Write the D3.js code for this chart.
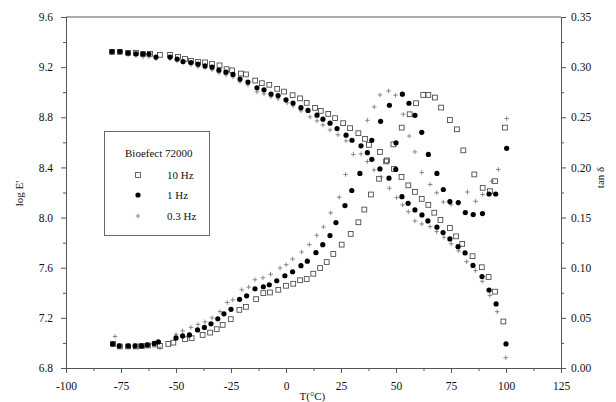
<!DOCTYPE html>
<html>
<head>
<meta charset="utf-8">
<script src="https://cdn.jsdelivr.net/npm/d3@7/dist/d3.min.js"></script>
<style>
  html, body { margin: 0; padding: 0; background: #fff; }
  svg { display: block; }
  text { font-family: "Liberation Serif", "Times New Roman", serif; fill: #111; }
</style>
</head>
<body>
<svg id="chart" width="616" height="402"></svg>
<script>
// Storage modulus (log E') of Bioefect 72000 vs temperature, [T in °C, log E']
const logE_10Hz = [[-79.1,9.322],[-75.5,9.322],[-71.8,9.314],[-68.2,9.314],[-65.0,9.306],[-61.8,9.306],[-57.3,9.298],[-52.7,9.298],[-49.1,9.282],[-45.9,9.266],[-43.2,9.250],[-40.0,9.242],[-36.8,9.238],[-33.6,9.226],[-30.2,9.214],[-27.0,9.184],[-24.5,9.174],[-20.5,9.149],[-18.2,9.142],[-14.0,9.093],[-11.0,9.072],[-7.6,9.059],[-4.0,9.027],[-0.9,9.005],[3.0,8.976],[6.4,8.951],[9.4,8.915],[13.2,8.875],[15.8,8.851],[19.2,8.827],[22.3,8.793],[26.0,8.753],[29.1,8.713],[32.9,8.673],[35.9,8.628],[37.7,8.580],[42.7,8.524],[45.9,8.456],[49.1,8.388],[52.5,8.324],[55.6,8.257],[58.6,8.205],[61.7,8.149],[64.7,8.101],[67.4,8.039],[70.2,7.981],[74.5,7.917],[77.3,7.850],[80.1,7.790],[84.8,7.692],[89.0,7.604],[92.1,7.526],[95.0,7.409],[98.8,7.171]];
const logE_1Hz = [[-79.1,9.324],[-75.5,9.324],[-71.8,9.312],[-68.2,9.306],[-65.0,9.304],[-62.3,9.304],[-59.1,9.280],[-52.7,9.280],[-49.5,9.264],[-46.8,9.245],[-43.2,9.237],[-40.0,9.224],[-36.8,9.210],[-33.6,9.200],[-30.5,9.176],[-27.3,9.160],[-24.1,9.142],[-20.9,9.105],[-17.3,9.081],[-13.2,9.035],[-10.0,9.019],[-6.8,8.985],[-3.6,8.973],[0.0,8.939],[3.2,8.913],[6.8,8.877],[10.0,8.855],[14.1,8.817],[16.8,8.785],[20.0,8.753],[23.2,8.710],[27.3,8.657],[30.0,8.617],[34.1,8.572],[37.0,8.518],[39.0,8.465],[42.7,8.388],[46.8,8.314],[52.7,8.167],[55.5,8.114],[58.6,8.061],[61.8,8.021],[64.5,7.973],[68.6,7.923],[71.4,7.880],[74.5,7.830],[78.2,7.768],[81.4,7.718],[85.0,7.618],[89.1,7.530],[92.3,7.422],[95.5,7.311],[100.0,6.992]];
const logE_03Hz = [[-79.1,9.314],[-75.5,9.314],[-71.8,9.298],[-68.2,9.290],[-65.0,9.282],[-62.3,9.282],[-59.1,9.266],[-52.7,9.266],[-49.5,9.250],[-46.8,9.234],[-43.2,9.218],[-40.0,9.202],[-36.8,9.194],[-33.6,9.178],[-30.5,9.154],[-27.3,9.138],[-24.1,9.122],[-20.9,9.083],[-17.3,9.059],[-13.2,9.003],[-10.0,8.987],[-6.8,8.963],[-3.6,8.947],[0.5,8.915],[3.2,8.891],[6.8,8.851],[10.9,8.803],[14.1,8.771],[16.8,8.739],[20.0,8.699],[23.6,8.660],[27.3,8.612],[34.1,8.508],[37.0,8.447],[40.0,8.380],[43.2,8.324],[47.0,8.234],[50.3,8.159],[53.0,8.101],[55.6,8.047],[58.6,7.973],[61.7,7.949],[65.5,7.928],[68.5,7.888],[71.8,7.843],[75.1,7.791],[78.5,7.735],[82.1,7.648],[86.1,7.577],[89.2,7.492],[92.7,7.379],[96.0,7.249],[99.9,6.882]];

// Loss tangent (tan δ) vs temperature, [T in °C, tan δ]
const tan_10Hz = [[-78.6,0.024],[-75.5,0.0215],[-71.8,0.0215],[-68.2,0.0215],[-65.5,0.022],[-62.7,0.0225],[-59.5,0.0235],[-57.3,0.022],[-53.5,0.024],[-51.2,0.0253],[-45.9,0.0287],[-42.9,0.0297],[-37.9,0.033],[-34.5,0.0353],[-31.5,0.0387],[-28.8,0.043],[-25.1,0.0487],[-21.2,0.058],[-18.2,0.061],[-13.6,0.0687],[-10.3,0.0747],[-7.3,0.0753],[-3.5,0.078],[0.0,0.082],[3.3,0.084],[6.4,0.0875],[9.4,0.0887],[12.4,0.094],[15.5,0.0997],[18.5,0.1057],[21.5,0.1137],[25.3,0.123],[29.4,0.1337],[32.9,0.1453],[35.6,0.158],[38.6,0.173],[42.3,0.1887],[45.5,0.206],[48.8,0.223],[52.6,0.2397],[56.2,0.253],[59.1,0.264],[62.4,0.2723],[64.7,0.2723],[67.7,0.2697],[70.5,0.2597],[74.5,0.2473],[77.7,0.238],[80.6,0.217],[85.6,0.193],[89.4,0.1797],[92.7,0.1763],[95.0,0.1863],[99.5,0.2397]];
const tan_1Hz = [[-78.8,0.024],[-75.8,0.022],[-71.7,0.022],[-68.6,0.022],[-65.6,0.022],[-63.0,0.023],[-59.9,0.0245],[-58.0,0.026],[-50.0,0.030],[-47.0,0.032],[-43.9,0.033],[-40.2,0.038],[-37.1,0.0405],[-34.1,0.044],[-31.0,0.049],[-28.2,0.054],[-25.0,0.0585],[-21.1,0.0685],[-17.9,0.072],[-14.1,0.079],[-10.3,0.081],[-7.6,0.083],[-4.2,0.087],[-0.5,0.092],[3.0,0.096],[6.8,0.102],[9.7,0.1065],[13.6,0.115],[16.7,0.123],[20.0,0.132],[22.7,0.145],[26.8,0.162],[29.9,0.177],[33.6,0.194],[39.0,0.227],[43.0,0.246],[47.0,0.262],[49.9,0.198],[50.0,0.2245],[52.9,0.273],[55.9,0.264],[58.6,0.252],[61.7,0.235],[64.7,0.213],[68.6,0.194],[71.5,0.178],[74.5,0.166],[78.3,0.165],[81.5,0.155],[85.1,0.153],[89.3,0.154],[92.3,0.1735],[95.3,0.1735],[100.3,0.219]];
const tan_03Hz = [[-77.7,0.0315],[-75.5,0.022],[-71.8,0.0215],[-68.6,0.0215],[-65.5,0.0215],[-62.7,0.022],[-59.5,0.023],[-57.3,0.020],[-50.0,0.0335],[-47.0,0.037],[-43.2,0.0405],[-40.0,0.0435],[-36.8,0.046],[-33.6,0.050],[-30.0,0.0563],[-26.7,0.0653],[-24.2,0.068],[-20.1,0.078],[-17.0,0.0807],[-14.1,0.088],[-10.5,0.090],[-7.0,0.0935],[-2.7,0.0997],[0.1,0.103],[3.0,0.1087],[7.1,0.1157],[10.6,0.123],[14.0,0.1323],[17.0,0.1407],[20.3,0.1547],[24.2,0.1703],[27.1,0.193],[30.6,0.213],[37.0,0.247],[40.1,0.2603],[42.7,0.2723],[46.6,0.2763],[49.8,0.272],[53.3,0.253],[56.0,0.2313],[58.6,0.2155],[61.7,0.195],[65.5,0.183],[68.5,0.1747],[71.5,0.1655],[75.0,0.163],[78.3,0.164],[82.5,0.1755],[86.2,0.1663],[89.4,0.173],[93.5,0.1863],[96.5,0.198],[100.3,0.2487]];

// Axis ticks
const tempTicks = [-100, -75, -50, -25, 0, 25, 50, 75, 100, 125];
const logETicks = [6.8, 7.2, 7.6, 8.0, 8.4, 8.8, 9.2, 9.6];
const tanTicks = [0.00, 0.05, 0.10, 0.15, 0.20, 0.25, 0.30, 0.35];

const legendTitle = "Bioefect 72000";
const legendLabels = ["10 Hz", "1 Hz", "0.3 Hz"];

const svg = d3.select("#chart");
svg.append("rect").attr("width", 616).attr("height", 402).attr("fill", "#fff");

const x = d3.scaleLinear().domain([-100, 125]).range([66, 561]);
const yE = d3.scaleLinear().domain([6.8, 9.6]).range([368, 17]);
const yT = d3.scaleLinear().domain([0, 0.35]).range([368, 17]);

const axisColor = "#555";
const tickFont = "11.5px";

function styleAxis(g) {
  g.selectAll("path.domain").attr("stroke", axisColor).attr("stroke-width", 1);
  g.selectAll(".tick line").attr("stroke", axisColor).attr("stroke-width", 1);
  g.selectAll(".tick text")
    .style("font-family", '"Liberation Serif", serif')
    .style("font-size", tickFont)
    .attr("fill", "#111");
}

function midpoints(arr) {
  const out = [];
  for (let i = 0; i < arr.length - 1; i++) out.push((arr[i] + arr[i + 1]) / 2);
  return out;
}

// minor ticks
svg.append("g").attr("transform", "translate(0,368)")
  .call(d3.axisBottom(x).tickValues(midpoints(tempTicks)).tickSize(3).tickFormat(""))
  .call(styleAxis);
svg.append("g").attr("transform", "translate(66,0)")
  .call(d3.axisLeft(yE).tickValues(midpoints(logETicks)).tickSize(3).tickFormat(""))
  .call(styleAxis);
svg.append("g").attr("transform", "translate(561,0)")
  .call(d3.axisRight(yT).tickValues(midpoints(tanTicks)).tickSize(3).tickFormat(""))
  .call(styleAxis);

// major ticks
svg.append("g").attr("transform", "translate(0,368)")
  .call(d3.axisBottom(x).tickValues(tempTicks).tickSize(5).tickSizeOuter(0).tickPadding(9)
    .tickFormat(d => String(d)))
  .call(styleAxis);
svg.append("g").attr("transform", "translate(66,0)")
  .call(d3.axisLeft(yE).tickValues(logETicks).tickSize(5).tickSizeOuter(0).tickPadding(8)
    .tickFormat(d3.format(".1f")))
  .call(styleAxis);
svg.append("g").attr("transform", "translate(561,0)")
  .call(d3.axisRight(yT).tickValues(tanTicks).tickSize(5).tickSizeOuter(0).tickPadding(5)
    .tickFormat(d3.format(".2f")))
  .call(styleAxis);

// top frame line
svg.append("line")
  .attr("x1", x(-100)).attr("x2", x(125))
  .attr("y1", yE(9.6)).attr("y2", yE(9.6))
  .attr("stroke", axisColor).attr("stroke-width", 1);

// axis titles
svg.append("text")
  .attr("transform", `translate(23,${(yE(8.0) + yE(8.4)) / 2 + 1}) rotate(-90)`)
  .attr("text-anchor", "middle")
  .style("font-size", "11px")
  .text("log E'");
svg.append("text")
  .attr("transform", `translate(604,${yT(0.19)}) rotate(-90)`)
  .attr("text-anchor", "middle")
  .style("font-size", "11px")
  .text("tan δ");
svg.append("text")
  .attr("x", x(12)).attr("y", 400)
  .attr("text-anchor", "middle")
  .style("font-size", "11px")
  .text("T(°C)");

// marker drawers
function drawSquares(g, pts, cx, cy) {
  g.selectAll(null).data(pts).enter().append("rect")
    .attr("x", d => cx(d) - 2.4).attr("y", d => cy(d) - 2.4)
    .attr("width", 4.8).attr("height", 4.8)
    .attr("fill", "none").attr("stroke", "#444").attr("stroke-width", 0.85);
}
function drawCircles(g, pts, cx, cy) {
  g.selectAll(null).data(pts).enter().append("circle")
    .attr("cx", cx).attr("cy", cy).attr("r", 2.6)
    .attr("fill", "#000");
}
function drawPluses(g, pts, cx, cy) {
  g.selectAll(null).data(pts).enter().append("path")
    .attr("d", d => {
      const px = cx(d), py = cy(d);
      return `M${px - 2.3},${py}H${px + 2.3}M${px},${py - 2.3}V${py + 2.3}`;
    })
    .attr("stroke", "#777").attr("stroke-width", 0.85).attr("fill", "none");
}

const gData = svg.append("g");
const tx = d => x(d[0]);
const ey = d => yE(d[1]);
const ty = d => yT(d[1]);

drawSquares(gData, logE_10Hz, tx, ey);
drawSquares(gData, tan_10Hz, tx, ty);
drawPluses(gData, logE_03Hz, tx, ey);
drawPluses(gData, tan_03Hz, tx, ty);
drawCircles(gData, logE_1Hz, tx, ey);
drawCircles(gData, tan_1Hz, tx, ty);

// legend
const lg = svg.append("g");
lg.append("rect")
  .attr("x", 104.5).attr("y", 131.5).attr("width", 105).attr("height", 104)
  .attr("fill", "#fff").attr("stroke", "#666").attr("stroke-width", 1);
lg.append("text").attr("x", 125).attr("y", 157).style("font-size", "11px").text(legendTitle);
const rowsY = [175, 195, 216];
const symX = 138;
legendLabels.forEach((lab, i) => {
  lg.append("text").attr("x", 167).attr("y", rowsY[i] + 4).style("font-size", "11px").text(lab);
});
lg.append("rect").attr("x", symX - 2.4).attr("y", rowsY[0] - 2.4).attr("width", 4.8).attr("height", 4.8)
  .attr("fill", "none").attr("stroke", "#444").attr("stroke-width", 0.85);
lg.append("circle").attr("cx", symX).attr("cy", rowsY[1]).attr("r", 2.6).attr("fill", "#000");
lg.append("path")
  .attr("d", `M${symX - 2.3},${rowsY[2]}H${symX + 2.3}M${symX},${rowsY[2] - 2.3}V${rowsY[2] + 2.3}`)
  .attr("stroke", "#777").attr("stroke-width", 0.85);
</script>
</body>
</html>
